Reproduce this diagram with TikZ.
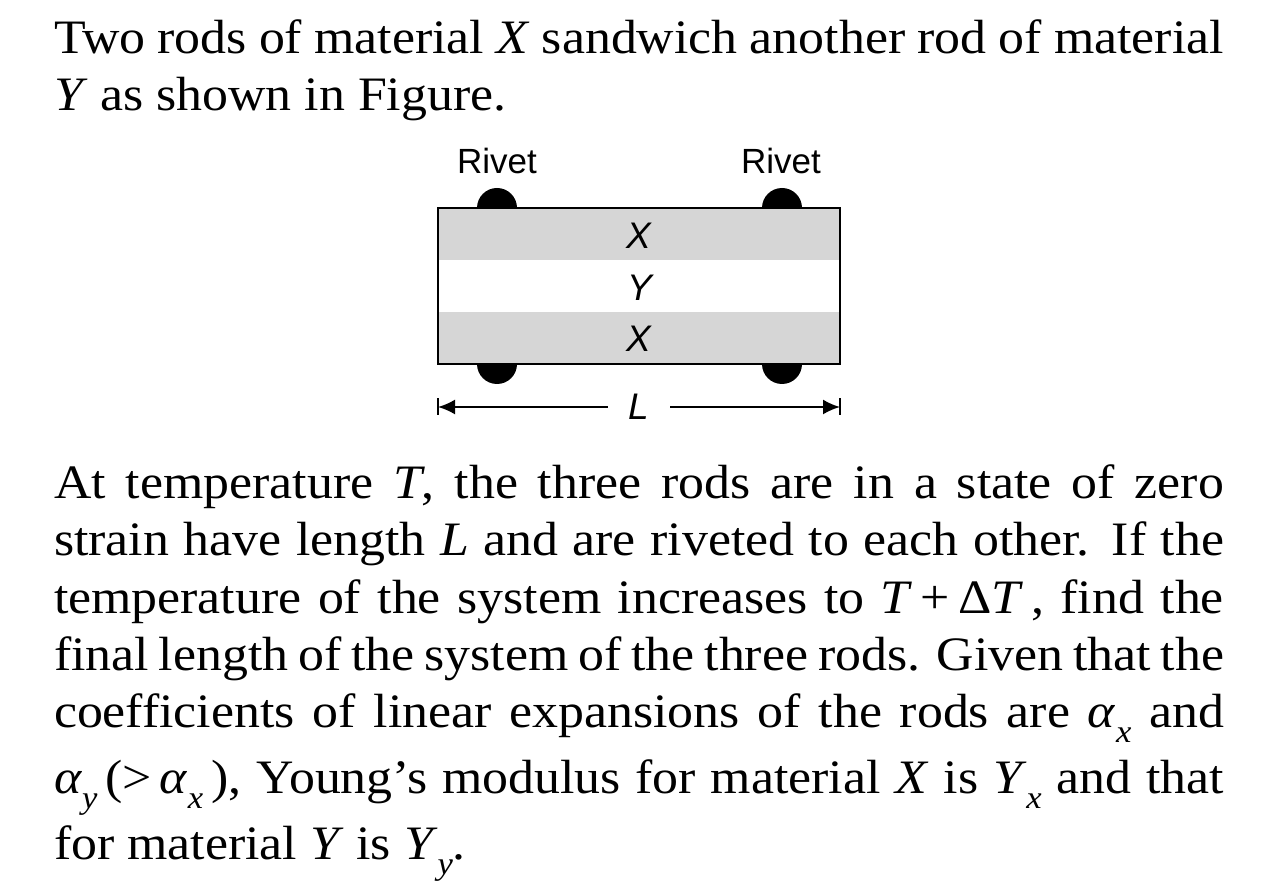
\documentclass[tikz,border=0pt]{standalone}
\usepackage{fontspec}
\setmainfont[FakeStretch=1.08]{Liberation Serif}
\newfontfamily\labelfont{Liberation Sans}
\usetikzlibrary{arrows.meta}
\newcommand{\tsub}[1]{\raisebox{-0.32em}{\fontsize{32}{32}\selectfont\textit{#1}}}
\newcommand{\tline}[1]{\makebox[1170pt][s]{#1}}
\tikzset{
  x=1pt,y=-1pt,
  textline/.style={anchor=base west,inner sep=0pt,outer sep=0pt,font=\fontsize{48}{52}\selectfont},
  figlabel/.style={inner sep=0pt,font=\labelfont\fontsize{35}{38}\selectfont},
  figletter/.style={inner sep=0pt,font=\labelfont\itshape\fontsize{37}{40}\selectfont},
  rivet/.style={fill=black,draw=none},
  band/.style={fill=black!16,draw=none},
  dim/.style={line width=2pt,-{Latex[length=17pt,width=15pt]}},
  tick/.style={line width=1.6pt}
}
\begin{document}
\begin{tikzpicture}
\useasboundingbox (0,0) rectangle (1280,890);
\fill[white] (0,0) rectangle (1280,890);
\node[textline] (t1) at (54,54) {\tline{Two rods of material \textit{X} sandwich another rod of material}};
\node[textline] (t2) at (54,111) {\textit{Y} as shown in Figure.};
\node[figlabel] (r1) at (497,161) {Rivet};
\node[figlabel] (r2) at (781,161) {Rivet};
% rivets (the y axis points down, so arcs run the other way)
\fill[rivet] (477,208) arc[start angle=180,end angle=360,radius=20] -- cycle;
\fill[rivet] (762,208) arc[start angle=180,end angle=360,radius=20] -- cycle;
\fill[rivet] (477,364) arc[start angle=180,end angle=0,radius=20] -- cycle;
\fill[rivet] (762,364) arc[start angle=180,end angle=0,radius=20] -- cycle;
% rods
\fill[white] (438,208) rectangle (840,364);
\fill[band] (438,208) rectangle (840,260);
\fill[band] (438,312) rectangle (840,364);
\draw[line width=2.2pt] (438,208) rectangle (840,364);
\node[figletter] (x1) at (639,236) {X};
\node[figletter] (y1) at (640,288) {Y};
\node[figletter] (x2) at (639,339) {X};
\node[figletter,minimum width=62pt] (len) at (639,407) {L};
\coordinate (la) at (438,407);
\coordinate (lb) at (840,407);
\draw[dim] (len.west) -- (la);
\draw[dim] (len.east) -- (lb);
\draw[tick] (438,398.5) -- (438,415.5);
\draw[tick] (840,398.5) -- (840,415.5);
\node[textline] (t3) at (54,498) {\tline{At temperature \textit{T}, the three rods are in a state of zero}};
\node[textline] (t4) at (54,555) {\tline{strain have length \textit{L} and are riveted to each other. If the}};
\node[textline] (t5) at (54,613) {\tline{temperature of the system increases to \textit{T}\,+\,Δ\textit{T}\,, find the}};
\node[textline] (t6) at (54,670) {\tline{final length of the system of the three rods. Given that the}};
\node[textline] (t7) at (54,727) {\tline{coefficients of linear expansions of the rods are \textit{α}\tsub{x} and}};
\node[textline] (t8) at (54,793) {\tline{\textit{α}\tsub{y}\,(>\,\textit{α}\tsub{x}\,), Young’s modulus for material \textit{X} is \textit{Y}\tsub{x} and that}};
\node[textline] (t9) at (54,859) {for material \textit{Y} is \textit{Y}\tsub{y}.};
\end{tikzpicture}
\end{document}
